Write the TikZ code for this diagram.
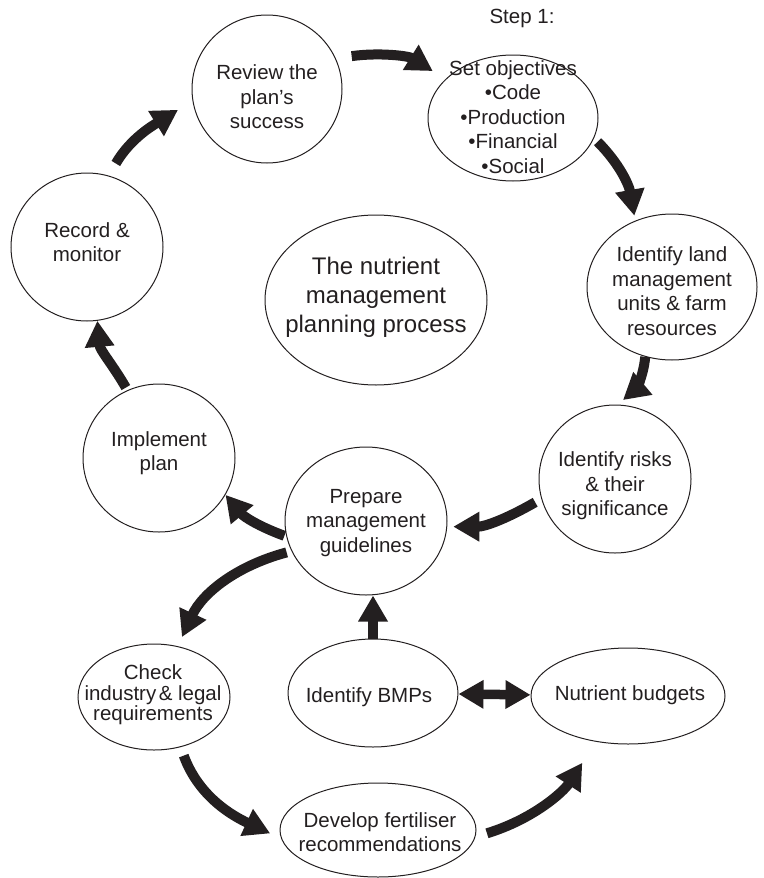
\documentclass[tikz,border=0pt]{standalone}
\usepackage{fontspec}
\setmainfont{Liberation Sans}
\usetikzlibrary{shapes.geometric,arrows.meta}
\definecolor{ink}{RGB}{35,31,32}
\begin{document}
\begin{tikzpicture}[x=1pt,y=1pt,
  bub/.style={draw=ink, line width=1pt, ellipse, inner sep=0pt},
  txt/.style={align=center, inner sep=0pt, text=ink, font=\fontsize{20.5}{24.5}\selectfont},
  bigarrow/.style={draw=ink, line width=10pt, -{Triangle[length=26pt,width=28pt]}},
  dblarrow/.style={draw=ink, line width=9.5pt, {Triangle[length=25pt,width=27pt]}-{Triangle[length=25pt,width=27pt]}}]
\useasboundingbox (0,0) rectangle (763,-878);

% bubbles
\node[bub, minimum width=150pt, minimum height=148pt] (rev)  at (267,-89)  {};
\node[bub, minimum width=170pt, minimum height=126pt] (set)  at (513,-118) {};
\node[bub, minimum width=170pt, minimum height=146pt] (land) at (672,-287) {};
\node[bub, minimum width=152pt, minimum height=148pt] (risk) at (615,-479) {};
\node[bub, minimum width=162pt, minimum height=148pt] (prep) at (366,-521) {};
\node[bub, minimum width=152pt, minimum height=148pt] (impl) at (159,-458) {};
\node[bub, minimum width=152pt, minimum height=148pt] (rec)  at (87,-247)  {};
\node[bub, minimum width=222pt, minimum height=170pt] (ctr)  at (376,-300) {};
\node[bub, minimum width=152pt, minimum height=106pt] (chk)  at (154,-697) {};
\node[bub, minimum width=170pt, minimum height=108pt] (bmp)  at (373,-693) {};
\node[bub, minimum width=194pt, minimum height=96pt]  (nut)  at (628,-696) {};
\node[bub, minimum width=196pt, minimum height=94pt]  (dev)  at (378,-830) {};

% texts
\node[txt] (step) at (522,-18) {Step 1:};
\node[txt] (trev)  at (267,-97)  {Review the\\plan’s\\success};
\node[txt] (tset)  at (513,-117) {Set objectives\\•Code\\•Production\\•Financial\\•Social};
\node[txt] (tland) at (672,-291) {Identify land\\management\\units \& farm\\resources};
\node[txt] (trisk) at (615,-486) {Identify risks\\\& their\\significance};
\node[txt] (tprep) at (366,-523) {Prepare\\management\\guidelines};
\node[txt] (timpl) at (159,-453) {Implement\\plan};
\node[txt] (trec)  at (87,-242)  {Record \&\\monitor};
\node[txt, font=\fontsize{24}{29}\selectfont] (tctr) at (376,-297) {The nutrient\\management\\planning process};
\node[txt, font=\fontsize{20.5}{20.5}\selectfont] (tchk) at (153,-695) {Check\\industry\hspace{0.12em}\& legal\\requirements};
\node[txt] (tbmp) at (369,-697) {Identify BMPs};
\node[txt] (tnut) at (630,-695) {Nutrient budgets};
\node[txt] (tdev) at (380,-832) {Develop fertiliser\\recommendations};

% connectors
\draw[bigarrow, shorten <=14pt, shorten >=17pt] (rec.73) to[out=60,in=212] (rev.189);
\draw[bigarrow, shorten <=16pt, shorten >=15pt] (rev.24) to[out=8,in=148] (set.150);
\draw[bigarrow, shorten <=5pt, shorten >=5pt] (set.-14) to[out=-45,in=100] (land.119);
\draw[bigarrow, shorten >=7pt] (land.249) to[out=-95,in=40] (risk.88);
\draw[bigarrow, shorten <=7pt, shorten >=6pt] (risk.195) to[out=210,in=0] (prep.-4);
\draw[bigarrow, shorten <=2pt] (prep.191) to[out=160,in=-50] (impl.-29);
\draw[bigarrow, shorten <=3pt] (impl.115) to[out=120,in=-85] (rec.-82);
\draw[bigarrow, shorten <=5pt, shorten >=10pt] (prep.202) to[out=195,in=65] (chk.65);
\draw[bigarrow, shorten <=9pt, shorten >=12pt] (chk.-62) to[out=-70,in=155] (dev.185);
\draw[bigarrow, shorten <=12pt, shorten >=25pt] (dev.-4) to[out=17,in=237] (nut.235);
\draw[bigarrow] (bmp.north) -- (bmp.north |- prep.south);
\draw[dblarrow] (bmp) -- (nut);
\end{tikzpicture}
\end{document}
